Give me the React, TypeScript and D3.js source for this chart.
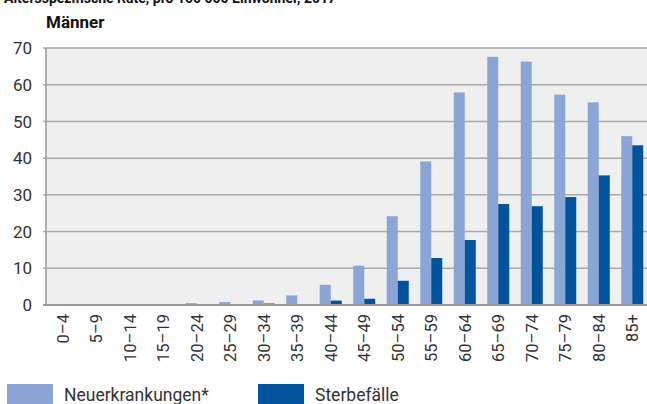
import React from "react";
import * as d3 from "d3";

const categories = ["0–4","5–9","10–14","15–19","20–24","25–29","30–34","35–39","40–44","45–49","50–54","55–59","60–64","65–69","70–74","75–79","80–84","85+"];
const neuerkrankungen = [0,0,0,0,0.5,0.8,1.25,2.6,5.5,10.7,24.2,39.1,57.9,67.6,66.3,57.3,55.2,46.0];
const sterbefaelle = [0,0,0,0,0,0,0.4,0,1.2,1.7,6.6,12.8,17.7,27.5,26.9,29.4,35.3,43.5];
const yTicks = [0,10,20,30,40,50,60,70];
const seriesNames = ["Neuerkrankungen*", "Sterbefälle"];
const colors = ["#8ba6d6", "#00539c"];

export default function App() {
  const W = 647, H = 404;
  const left = 46, right = 649, top = 48, bottom = 305;
  const x = d3.scaleBand<string>().domain(categories).range([left, right]).padding(0);
  const y = d3.scaleLinear().domain([0, 70]).range([bottom, top]);
  const bw = x.bandwidth();
  const barW = 11;
  const font = "Roboto, 'Noto Sans', sans-serif";
  return (
    <svg width={W} height={H} style={{ position: "absolute", left: 0, top: 0 }} fontFamily={font}>
      <text x={4} y={3} fontSize={14} fontWeight="bold" fill="#111">Altersspezifische Rate, pro 100 000 Einwohner, 2017</text>
      <text x={46} y={28} fontSize={17} fontWeight="bold" fill="#111">Männer</text>
      <rect x={left} y={top} width={W - left} height={bottom - top} fill="#efefef" />
      {yTicks.map(t => (
        <g key={t}>
          <line x1={left - 3} x2={W} y1={y(t)} y2={y(t)} stroke={t === 0 ? "#999" : "#aaa"} strokeWidth={t === 0 ? 2 : 1.5} />
          <text x={32} y={y(t)} dy="0.36em" textAnchor="end" fontSize={17} fill="#333">{t}</text>
        </g>
      ))}
      {categories.map((c, i) => {
        const x0 = (x(c) as number) + bw / 2 - barW;
        return (
          <g key={c}>
            <rect x={x0} y={y(neuerkrankungen[i])} width={barW} height={bottom - y(neuerkrankungen[i])} fill={colors[0]} />
            <rect x={x0 + barW} y={y(sterbefaelle[i])} width={barW} height={bottom - y(sterbefaelle[i])} fill={colors[1]} />
          </g>
        );
      })}
      <line x1={left} x2={W} y1={bottom} y2={bottom} stroke="#999" strokeWidth={2} />
      <line x1={left} x2={left} y1={top} y2={bottom + 1} stroke="#999" strokeWidth={1.5} />
      {categories.map(c => {
        const cx = (x(c) as number) + bw / 2;
        return (
          <text key={c} transform={`translate(${cx},${314}) rotate(-90)`} textAnchor="end" dy="0.36em" fontSize={16.5} fill="#333">{c}</text>
        );
      })}
      {seriesNames.map((s, i) => (
        <g key={s} transform={`translate(${7 + i * 251},0)`}>
          <rect x={0} y={384} width={46} height={22} fill={colors[i]} />
          <text x={57} y={401} fontSize={17.5} fill="#333">{s}</text>
        </g>
      ))}
    </svg>
  );
}
